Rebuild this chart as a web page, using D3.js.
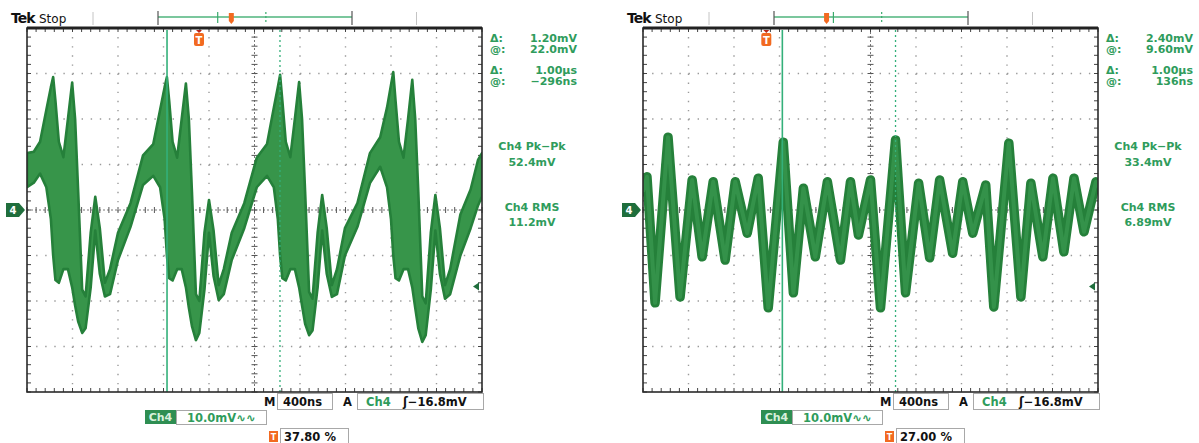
<!DOCTYPE html>
<html>
<head>
<meta charset="utf-8">
<script src="https://cdn.jsdelivr.net/npm/d3@7"></script>
<style>
  body { margin: 0; background: #fff; }
  svg { display: block; font-family: "DejaVu Sans", sans-serif; }
  .readout { fill: #2f9c5c; font-weight: bold; font-size: 11px; }
  .box { fill: #fff; stroke: #a8a8a8; stroke-width: 1; }
  .blk { fill: #111; font-weight: bold; font-size: 11.5px; }
  .grn { fill: #2f9c5c; font-weight: bold; font-size: 11.5px; }
</style>
</head>
<body>
<svg id="chart" width="1199" height="443"></svg>
<script>
// ---- graticule (µs across, mV up) ----
const timeGrid = [0, 0.4, 0.8, 1.2, 1.6, 2.0, 2.4, 2.8, 3.2, 3.6, 4.0];
const voltGrid = [-40, -30, -20, -10, 0, 10, 20, 30, 40];

// ---- left capture: envelope of the ringing trace [µs, upper mV, lower mV] ----
const leftEnvelope = [
  [0.00, 12.5, 5.0], [0.06, 12.8, 6.0], [0.115, 15.0, 8.0], [0.17, 22.0, 5.0], [0.21, 27.0, -2.0],
  [0.23, 29.2, -10.0], [0.25, 24.0, -15.4], [0.28, 15.0, -16.0], [0.32, 11.6, -13.0], [0.36, 20.0, -13.0],
  [0.397, 28.0, -17.0], [0.423, 20.0, -21.0], [0.45, 4.0, -24.5], [0.485, -17.5, -27.0], [0.515, -19.0, -26.0],
  [0.56, -5.0, -17.0], [0.60, 2.9, -4.5], [0.64, -4.0, -14.0], [0.685, -16.0, -19.0], [0.73, -13.0, -18.5],
  [0.80, -5.0, -11.0], [0.91, 1.5, -3.7], [1.02, 12.0, 5.5], [1.11, 14.5, 7.5],
  [1.17, 22.0, 5.0], [1.21, 27.0, -2.0], [1.23, 29.2, -10.0], [1.25, 24.0, -15.0], [1.28, 15.0, -15.5],
  [1.32, 11.5, -13.0], [1.36, 20.0, -13.0], [1.397, 27.8, -17.0], [1.423, 20.0, -21.5], [1.45, 4.0, -25.5],
  [1.485, -18.5, -28.6], [1.515, -20.0, -27.0], [1.56, -5.0, -17.5], [1.60, 2.2, -5.0], [1.64, -4.5, -14.5],
  [1.685, -16.5, -19.8], [1.73, -13.0, -18.5], [1.80, -5.0, -11.0], [1.91, 1.5, -4.0], [2.02, 11.5, 5.0],
  [2.11, 14.5, 7.5], [2.17, 22.5, 5.0], [2.205, 27.0, -2.0], [2.225, 29.7, -10.0], [2.245, 24.0, -15.0],
  [2.275, 15.0, -15.5], [2.315, 11.6, -13.0], [2.355, 20.0, -13.0], [2.392, 28.1, -17.0], [2.418, 20.0, -21.0],
  [2.445, 4.0, -25.0], [2.48, -18.0, -27.5], [2.51, -19.5, -26.5], [2.555, -5.0, -17.0], [2.595, 3.3, -4.5],
  [2.635, -4.0, -14.0], [2.68, -16.5, -19.1], [2.725, -13.0, -18.5], [2.795, -4.0, -10.0], [2.905, 1.5, -3.7],
  [3.015, 12.5, 5.9], [3.105, 16.0, 9.5], [3.165, 22.5, 5.0], [3.20, 27.5, -2.0], [3.22, 30.3, -10.0],
  [3.24, 24.0, -15.0], [3.27, 15.0, -15.5], [3.31, 11.5, -13.0], [3.35, 20.0, -13.0], [3.387, 28.6, -17.0],
  [3.413, 20.0, -21.5], [3.44, 4.0, -26.0], [3.475, -19.0, -29.0], [3.505, -20.5, -27.5], [3.55, -5.0, -17.5],
  [3.59, 3.3, -4.5], [3.63, -4.0, -14.0], [3.675, -16.5, -19.5], [3.72, -13.0, -18.5], [3.81, -1.0, -10.0],
  [3.90, 4.5, -4.0], [3.965, 11.0, 1.0], [4.00, 12.5, 3.0]
];

// ---- right capture: centre of the trace [µs, mV] ----
const rightTrace = [
  [0.0, 4.0], [0.035, 7.3], [0.106, -20.4], [0.220, 16.0], [0.326, -19.1], [0.432, 6.6], [0.520, -10.3],
  [0.617, 6.2], [0.722, -11.0], [0.811, 6.2], [0.916, -5.1], [1.013, 7.0], [1.101, -21.5], [1.233, 14.9],
  [1.322, -18.2], [1.410, 4.8], [1.515, -10.3], [1.621, 6.2], [1.736, -11.0], [1.824, 6.2], [1.894, -5.5],
  [2.0, 6.6], [2.088, -21.5], [2.220, 15.4], [2.308, -18.2], [2.423, 5.9], [2.520, -10.5], [2.608, 6.6],
  [2.722, -9.5], [2.811, 6.2], [2.899, -5.1], [3.013, 5.5], [3.084, -21.3], [3.216, 14.7], [3.322, -19.1],
  [3.410, 5.9], [3.515, -10.3], [3.604, 7.0], [3.700, -9.2], [3.789, 7.0], [3.877, -4.8], [3.982, 6.2], [4.0, 5.0]
];

// cursors [solid, dotted] and trigger point, µs
const leftCursors = [1.231, 2.224];
const rightCursors = [1.225, 2.220];
const leftTrigTime = 1.512;
const rightTrigTime = 1.084;
const trigLevel = -16.8;     // mV
const recordEnds = [-1.34, 5.33];

const leftReadouts = [["Δ:", "1.20mV"], ["@:", "22.0mV"], ["Δ:", "1.00µs"], ["@:", "−296ns"]];
const rightReadouts = [["Δ:", "2.40mV"], ["@:", "9.60mV"], ["Δ:", "1.00µs"], ["@:", "136ns"]];
const leftMeasures = ["Ch4 Pk−Pk", "52.4mV", "Ch4 RMS", "11.2mV"];
const rightMeasures = ["Ch4 Pk−Pk", "33.4mV", "Ch4 RMS", "6.89mV"];
const trigPositions = ["37.80 %", "27.00 %"];

const svg = d3.select('#chart');

const GRID = { left: 27, right: 482, top: 28, bottom: 392 };

const scopes = [
  { ox: 0, kind: 'band', data: leftEnvelope, cursors: leftCursors, trig: leftTrigTime,
    readouts: leftReadouts, measures: leftMeasures, pos: trigPositions[0] },
  { ox: 616, kind: 'line', data: rightTrace, cursors: rightCursors, trig: rightTrigTime,
    readouts: rightReadouts, measures: rightMeasures, pos: trigPositions[1] }
];

scopes.forEach((s, i) => drawScope(s, i));

function drawScope(s, idx) {
  const g = svg.append('g').attr('transform', `translate(${s.ox},0)`);
  const x = d3.scaleLinear().domain([0, 4]).range([GRID.left, GRID.right]);
  const y = d3.scaleLinear().domain([-40, 40]).range([GRID.bottom, GRID.top]);

  // header
  g.append('text').attr('x', 11).attr('y', 23).attr('font-size', 14).attr('font-weight', 'bold')
    .attr('letter-spacing', -1).attr('fill', '#111').text('Tek');
  g.append('text').attr('x', 39).attr('y', 23).attr('font-size', 12).attr('fill', '#111').text('Stop');

  // record bar
  const bar = d3.scaleLinear().domain([0, 4]).range([158, 352]);
  recordEnds.forEach(t => {
    g.append('line').attr('x1', bar(t)).attr('x2', bar(t)).attr('y1', 12).attr('y2', 25)
      .attr('stroke', '#c4c4c4').attr('stroke-width', 1);
  });
  g.append('line').attr('x1', bar(0)).attr('x2', bar(4)).attr('y1', 17).attr('y2', 17)
    .attr('stroke', '#4fb47c').attr('stroke-width', 1.5);
  [0, 4].forEach(t => {
    g.append('line').attr('x1', bar(t)).attr('x2', bar(t)).attr('y1', 11).attr('y2', 25)
      .attr('stroke', '#555').attr('stroke-width', 1.2);
  });
  s.cursors.forEach((t, k) => {
    g.append('line').attr('x1', bar(t)).attr('x2', bar(t)).attr('y1', 12).attr('y2', 23)
      .attr('stroke', '#3aaa6c').attr('stroke-width', 1.2)
      .attr('stroke-dasharray', k ? '2,2' : null);
  });
  g.append('path')
    .attr('d', `M${bar(s.trig) - 2.5},13 h5 v8 l-2.5,3 l-2.5,-3 Z`)
    .attr('fill', '#f26a21');

  // graticule
  const grat = g.append('g');
  const dot = (45.5 / 5) - 1.4;
  timeGrid.slice(1, -1).forEach(t => {
    if (t === 2.0) return;
    grat.append('line').attr('x1', x(t)).attr('x2', x(t)).attr('y1', GRID.top).attr('y2', GRID.bottom)
      .attr('stroke', '#9a9a9a').attr('stroke-width', 1.4).attr('stroke-dasharray', `1.4,${dot}`);
  });
  voltGrid.slice(1, -1).forEach(v => {
    if (v === 0) return;
    grat.append('line').attr('x1', GRID.left).attr('x2', GRID.right).attr('y1', y(v)).attr('y2', y(v))
      .attr('stroke', '#9a9a9a').attr('stroke-width', 1.4).attr('stroke-dasharray', `1.4,${dot}`);
  });
  // centre axes with minor ticks
  grat.append('line').attr('x1', x(2)).attr('x2', x(2)).attr('y1', GRID.top).attr('y2', GRID.bottom)
    .attr('stroke', '#777').attr('stroke-width', 1).attr('stroke-dasharray', '2,2');
  grat.append('line').attr('x1', GRID.left).attr('x2', GRID.right).attr('y1', y(0)).attr('y2', y(0))
    .attr('stroke', '#777').attr('stroke-width', 1).attr('stroke-dasharray', '2,2');
  const tMinor = d3.range(0, 4.0001, 0.08);
  const vMinor = d3.range(-40, 40.001, 2);
  tMinor.forEach(t => {
    grat.append('line').attr('x1', x(t)).attr('x2', x(t)).attr('y1', y(0) - 3).attr('y2', y(0) + 3)
      .attr('stroke', '#555').attr('stroke-width', 1);
    grat.append('line').attr('x1', x(t)).attr('x2', x(t)).attr('y1', GRID.top).attr('y2', GRID.top + 4)
      .attr('stroke', '#444').attr('stroke-width', 1);
    grat.append('line').attr('x1', x(t)).attr('x2', x(t)).attr('y1', GRID.bottom - 4).attr('y2', GRID.bottom)
      .attr('stroke', '#444').attr('stroke-width', 1);
  });
  vMinor.forEach(v => {
    grat.append('line').attr('x1', x(2) - 3).attr('x2', x(2) + 3).attr('y1', y(v)).attr('y2', y(v))
      .attr('stroke', '#555').attr('stroke-width', 1);
    grat.append('line').attr('x1', GRID.left).attr('x2', GRID.left + 4).attr('y1', y(v)).attr('y2', y(v))
      .attr('stroke', '#444').attr('stroke-width', 1);
    grat.append('line').attr('x1', GRID.right - 4).attr('x2', GRID.right).attr('y1', y(v)).attr('y2', y(v))
      .attr('stroke', '#444').attr('stroke-width', 1);
  });

  // trace
  const clipId = 'clip' + idx;
  g.append('clipPath').attr('id', clipId).append('rect')
    .attr('x', GRID.left).attr('y', GRID.top)
    .attr('width', GRID.right - GRID.left).attr('height', GRID.bottom - GRID.top);
  const tg = g.append('g').attr('clip-path', `url(#${clipId})`);
  if (s.kind === 'band') {
    const area = d3.area().x(d => x(d[0])).y0(d => y(d[2])).y1(d => y(d[1]));
    tg.append('path').datum(s.data).attr('d', area)
      .attr('fill', '#37954a').attr('stroke', '#25803a').attr('stroke-width', 2.6)
      .attr('stroke-linejoin', 'round');
  } else {
    const line = d3.line().x(d => x(d[0])).y(d => y(d[1]));
    tg.append('path').datum(s.data).attr('d', line)
      .attr('fill', 'none').attr('stroke', '#25803a').attr('stroke-width', 9.5)
      .attr('stroke-linejoin', 'round').attr('stroke-linecap', 'round');
    tg.append('path').datum(s.data).attr('d', line)
      .attr('fill', 'none').attr('stroke', '#34924a').attr('stroke-width', 4)
      .attr('stroke-linejoin', 'round');
  }

  // cursors
  s.cursors.forEach((t, k) => {
    g.append('line').attr('x1', x(t)).attr('x2', x(t)).attr('y1', GRID.top + 2).attr('y2', GRID.bottom)
      .attr('stroke', '#34b07a').attr('stroke-width', k ? 1.3 : 1.6)
      .attr('stroke-dasharray', k ? '2,3' : null);
  });

  // border
  g.append('rect').attr('x', GRID.left).attr('y', GRID.top)
    .attr('width', GRID.right - GRID.left).attr('height', GRID.bottom - GRID.top)
    .attr('fill', 'none').attr('stroke', '#2a2a2a').attr('stroke-width', 1.6);
  g.append('line').attr('x1', GRID.left).attr('x2', GRID.right).attr('y1', GRID.top).attr('y2', GRID.top)
    .attr('stroke', '#222').attr('stroke-width', 3);

  // trigger point marker
  const tx = x(s.trig);
  g.append('path').attr('d', `M${tx - 3},30 h6 l-3,3 Z`).attr('fill', '#b8261a');
  g.append('rect').attr('x', tx - 5).attr('y', 33).attr('width', 10).attr('height', 13).attr('rx', 2)
    .attr('fill', '#f26a21');
  g.append('text').attr('x', tx).attr('y', 44).attr('text-anchor', 'middle').attr('font-size', 10)
    .attr('font-weight', 'bold').attr('fill', '#fff').text('T');

  // ground marker
  const gy = y(0);
  g.append('path').attr('d', `M6,${gy - 7} H19 L25,${gy} L19,${gy + 7} H6 Z`).attr('fill', '#1f6e3c');
  g.append('text').attr('x', 13).attr('y', gy + 4).attr('text-anchor', 'middle').attr('font-size', 10)
    .attr('font-weight', 'bold').attr('fill', '#fff').text('4');

  // trigger level marker
  const ly = y(trigLevel);
  g.append('path').attr('d', `M${GRID.right - 9},${ly} L${GRID.right - 3},${ly - 4} L${GRID.right - 3},${ly + 4} Z`)
    .attr('fill', '#1f6e3c');

  // cursor readouts
  const rowY = [42, 53, 74, 85];
  s.readouts.forEach((r, k) => {
    g.append('text').attr('class', 'readout').attr('x', 490).attr('y', rowY[k]).text(r[0]);
    g.append('text').attr('class', 'readout').attr('x', 577).attr('y', rowY[k])
      .attr('text-anchor', 'end').text(r[1]);
  });
  const measY = [150, 166, 211, 226];
  s.measures.forEach((m, k) => {
    g.append('text').attr('class', 'readout').attr('x', 532).attr('y', measY[k])
      .attr('text-anchor', 'middle').text(m);
  });

  // bottom status boxes
  g.append('text').attr('class', 'blk').attr('x', 264).attr('y', 406).text('M');
  g.append('rect').attr('class', 'box').attr('x', 277.5).attr('y', 393.5).attr('width', 55).attr('height', 16);
  g.append('text').attr('class', 'blk').attr('x', 283).attr('y', 406).text('400ns');
  g.append('text').attr('class', 'blk').attr('x', 343).attr('y', 406).text('A');
  g.append('rect').attr('class', 'box').attr('x', 357.5).attr('y', 393.5).attr('width', 126).attr('height', 16);
  g.append('text').attr('class', 'grn').attr('x', 366).attr('y', 406).text('Ch4');
  g.append('text').attr('class', 'blk').attr('x', 403).attr('y', 406).text('ʃ−16.8mV');

  g.append('rect').attr('x', 145).attr('y', 410).attr('width', 31).attr('height', 14).attr('fill', '#2e8e52');
  g.append('text').attr('x', 160.5).attr('y', 421).attr('text-anchor', 'middle').attr('font-size', 11)
    .attr('font-weight', 'bold').attr('fill', '#d8f0dc').text('Ch4');
  g.append('rect').attr('class', 'box').attr('x', 176.5).attr('y', 410.5).attr('width', 90).attr('height', 14);
  g.append('text').attr('class', 'grn').attr('x', 187).attr('y', 421.5).text('10.0mV∿∿');

  g.append('rect').attr('x', 269).attr('y', 431).attr('width', 9).attr('height', 11).attr('fill', '#f26a21');
  g.append('text').attr('x', 273.5).attr('y', 440).attr('text-anchor', 'middle').attr('font-size', 8)
    .attr('font-weight', 'bold').attr('fill', '#fff').text('T');
  g.append('rect').attr('class', 'box').attr('x', 280.5).attr('y', 428.5).attr('width', 68).attr('height', 15);
  g.append('text').attr('class', 'blk').attr('x', 284).attr('y', 441).text(s.pos);
}
</script>
</body>
</html>
